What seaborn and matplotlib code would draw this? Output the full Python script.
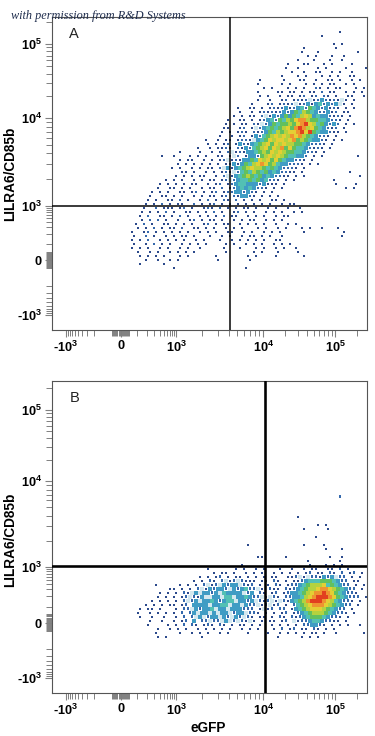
import numpy as np
import pandas as pd
import seaborn as sns
import matplotlib
matplotlib.use("Agg")
import matplotlib.pyplot as plt

sns.set_theme(style="white")
plt.rcParams.update({
    "font.family": ["Liberation Sans", "DejaVu Sans"],
    "mathtext.fontset": "custom",
    "mathtext.rm": "Liberation Sans",
    "mathtext.bf": "Liberation Sans:bold",
})

# ---------- data: density level per 2-D bin ----------
ROWS_A = """
.......... .......... .......... .......... .......... ..1
.......... .......... .......... .......... .......1..
.......... .......... .......... .......... ..........
.......... .......... .......... .......... .......... 1.1
.......... .......... .......... .......... ...1...... .1
.......... .......... .......... .......... ..1...1... ......1
.......... .......... .......... .......... ....1.1... 1..1
.......... .......... .......... .......... .1...1...1 ..1
.......... .......... .......... .........1 ...11...1. 1....1
.......... .......... .......... ........1. .1....1.1. ...1....1
.......... .......... .......... .......... 1..1..11.. 1.1..1
.......... .......... .......... .......1.. .1.1...1.1 .1..11
.......... .......... .......... ..1.....1. ..11..1..1 1.1..1.1
.......... .......... .......... .1.....1.1 ...1.1.1.1 1..1.1
.......... .......... .......... ...1.1...1 .1.1..21.1 .11...1.1
.......... .......... .......... .1....11.1 1.1.11.2.1 1..1.1.1
.......... .......... .......... ..1.1..1.1 1.12.12.21 .1..11..1
.......... .......... .......... .1..1..12. 1212012321 2101.1
.......... .......... .......... 1...12.121 2012313423 2301.1
.......... .......... ......1..1 1.1.121231 2342543231 21.1.1
.......... .......... .......1.. 1.12121232 3546543223 12.11
.......... .......... .....1.1.1 1.20132353 5467634332 121.1
.......... .......... ....1..11. 1.12342546 5788655443 221.1
.......... .......... ...1.1.11. 2102354556 5789764532 32.1.1
.......... .......... ...11..12. 1023454567 5898675432 12.1
.......... .......... ..1.1.121. 2123546567 7897954332 11.1
.......... .......... ..1..1.12. 1324567676 8786543221 .1
.......... ........1. .1.11.1221 0345767767 856543321. 1.1
.......... .........1 .1.12.1321 3456757676 655432221. 1
.......... ......1..1 .1121.2132 4567576857 54432121.1
.......... ..1....1.. 1.1.201213 3456576765 5443221.1.
.......1.. 1...1.1.1. .11.102.13 3256767654 4332.1.1.. ......1
.......... ..1.11..1. 1.12012133 5476757543 3221.1....
.......... .1.1.1.1.1 .1.1231354 6787564332 221.1.1
.......... 1.1..1.1.1 1.20313456 7665454322 21.1
.......... ..11.1..1. 1.12102454 6545343221 1.1....... ....1
.......... .1.1.1.11. .1.2013456 5453432211 .1.1...... .......1
........1. 1.1..1.1.1 1.12023445 4534221.1. 1......... 1
.......1.1 .1.1.11..1 .12.123443 3323111.1. .......... .1....1
......1..1 1.1.1..1.1 1.2.123434 3221.1.1.. .......... ...1.1
.....1.1.1 ..11.12.1. 12.1223323 21.1.1....
....1..11. 1.1..1.1.1 1.12.21332 1.1.1.1...
....1.1..1 1.2.1..1.2 .1.21.2.1. 1.1..11.1.
...1.1.2.1 .11..2.1.1 2.1.2.1.1. 1.1.1..1.1 1
...1..2.11 1.12.1..12 1.2.1.1.11 .1..1.1..1 ..1
..1.1.1.2. 1..11.1.1. 2.1..12.1. 1..1.1.1.. 1.1
..1.2..11. 1.2.1..1.1 .1.2.11..1 .1.1..1.11
..1.2.2.1. .1..12.1.1 1.1..1.1.1 1..1.1.1.
.1.2.1..11 .1.1.1..12 .1.11..1.1 .1.1..1..1 .1
.1.1.2.1.1 1.2..11.1. 1..1.1.1.. .1.1..1.1. ..1.1..1.. .1
1..12.1.1. 1.1.1..1.1 .1..11..1. 1..1.1.1.. ...1...... ...1
1..2.1..1. 1.11.1...1 ..1.1..1.1 1.1.1..1.. .......... ..1
1.1.2..1.1 .1.1..1.1. ..1..1.1.1 .1.1..11..
1..1.2.1.1 ..1.1.1.1. ...1.1..1. 1.1..1.1.1
1.1.1..1.1 ..1.1..1.. ...1...1.. .1.1..1.1. .1
.1..1.1..1 .1.1.1.... ...1...... 1.1...1... .1
..1.1.1.1. ..1.1..... .1.......1 .1....1... ...1
...1..1..1 .1........ .1.......1
..1.....1.
.......... 1......... ........1.
""".strip().splitlines()

ROWS_B = """
.......... .......... .......... .......... .......... ..2
.
.
.
.
.......... .......... .......... .......... .1
.
.......... .......... .......... .......... ......1.1.
.......... .......... .......... .......... ...1.....1
.
.......... .......... .......... .......... ......1...
.
.......... .......... .........1 .......... ...1....1.
.......... .......... .......... .......... ........1. ..1
.
.......... .......... .......... .11.....1. .........1 ..1
.......... .......... .......... .......... ....1..... ..1
.......... .......... .......1.. .......... ....1...1. 1.1
.......... .........1 ......1.1. .1.1...1.. 1..1.11..1 1.2.1
.......... .......... 1.11.1..1. 1.1..1.1.1 .1.12.11.2 1.2.12.1
.......... .......1.1 .12.1.11.1 .1.1.11..1 1201022132 3022.1.1
.......... .....1.1.2 1.20120211 1.11.21.1. 1123444555 4322.11
......1... ..1.1.1.20 1203233021 2.1.1.21.1 2234566674 54322.1.1
.........1 1.1.1.2013 2332032342 201.211.21 2345667887 654322.1
.......1.1 .1.2103033 2304333302 3.21.12.12 3345678898 7543221
......1.1. 1.12021300 3304403343 2201021.22 3346789998 7543222.1
.....1.1.1 .1.2023033 4323440332 3021201021 3456899987 643221.1
...1.1.1.1 1.12.33330 3344033032 2012012.1. 2456788876 54322.1
..1.11.1.. .1.2203233 4033033322 2.1012.22. 1345677765 4322.1
.1..1.1.1. 1.2.230330 3033023302 21.1.1.12. 1234566654 3221.1
..1..1..1. .1.2.20302 3303203202 1.11.1.21. 2123455543 221.1
....1..1.. 1.12.3.220 2203020210 1.1.11.12. 0122344322 11.1
....1....1 .1.2.21.12 1.21.1.11. 1.1..1.1.1 .1.223321. 1.1.1..1
......1..1 .1.1..1.1. 1.1.1..1.1 .1...1.2.1 2.11.21.1. 1
......1... ..1..1.1.1 ..1.1....1 ....1..1.1 .1.1.11.1. .1......1
......1.1. .......1.. .......... ......1... ..1.1.1...
""".strip().splitlines()

X_TICK_VALUES = [-1000, 0, 1000, 10000, 100000]
X_TICK_LABELS = [r"-$\mathbf{10^{3}}$", "0", r"$\mathbf{10^{3}}$", r"$\mathbf{10^{4}}$", r"$\mathbf{10^{5}}$"]
Y_TICK_VALUES = [-1000, 0, 1000, 10000, 100000]
Y_TICK_LABELS = X_TICK_LABELS
GATE_A = (4200, 1000)
GATE_B = (10700, 1030)

PALETTE = {0: "#d3e8ef", 1: "#2c4a8c", 2: "#3569ad", 3: "#3f9cc4", 4: "#52c0b4", 5: "#62c05e",
           6: "#b4d23e", 7: "#e4cf34", 8: "#ee9430", 9: "#e2401f"}
SIZES_PX = {0: 4.3, 1: 2.1, 2: 2.9, 3: 3.6, 4: 4.0, 5: 4.3, 6: 4.3, 7: 4.3, 8: 4.3, 9: 4.3}

W, H = 375, 736
CELL = 4
GRID_LEFT = 130

# scale anchors: asinh-transformed value -> pixel
ANCH_V = np.array([-1e4, -1000, 0, 1000, 1e4, 1e5, 1e6])
ANCH_T = np.arcsinh(ANCH_V / 100)
ANCH_X = np.array([0.0, 65.7, 120.7, 176.3, 263.3, 335.3, 407.3])
ANCH_YA = -np.array([370.0, 315.0, 260.0, 205.7, 118.3, 44.0, -30.0])
ANCH_YB = -np.array([733.0, 678.0, 623.0, 567.3, 481.3, 409.7, 336.0])


def make_funcs(anch):
    fwd = lambda v: np.interp(np.arcsinh(np.asarray(v, float) / 100), ANCH_T, anch)
    inv = lambda p: 100 * np.sinh(np.interp(np.asarray(p, float), anch, ANCH_T))
    return fwd, inv


MINOR = ([-s * 100 for s in range(2, 10)] + [s * 100 for s in range(1, 10)]
         + [s * 1000 for s in range(2, 10)] + [s * 10000 for s in range(2, 10)] + [200000])
ZERO_BLOCK = [v for v in range(-48, 49, 6)]


def cells(rows, top, xinv, yinv):
    recs = []
    for i, row in enumerate(rows):
        s = "".join(g.ljust(10, ".") for g in row.split())
        shift = CELL / 2 * (i % 2)  # hexagonal (staggered) binning
        for j, c in enumerate(s):
            if c != ".":
                recs.append((float(xinv(GRID_LEFT + CELL * j + CELL / 2 + shift)),
                             float(yinv(-(top + CELL * i + CELL / 2))), int(c)))
    return pd.DataFrame(recs, columns=["x", "y", "level"]).sort_values("level", kind="stable")


fig = plt.figure(figsize=(W / 100, H / 100), dpi=100)
panels = [("A", ROWS_A, ANCH_YA, 17.3, 330.0, 30, GATE_A, 1.5, 174),
          ("B", ROWS_B, ANCH_YB, 380.7, 693.3, 494.7, GATE_B, 2.6, 540)]
L, R = 51.7, 366.7
xf, xi = make_funcs(ANCH_X)
sizes = {k: (v * 0.72) ** 2 for k, v in SIZES_PX.items()}

for name, rows, anch, top, bot, gtop, gate, lw, ylab in panels:
    yf, yi = make_funcs(anch)
    ax = fig.add_axes([L / W, 1 - bot / H, (R - L) / W, (bot - top) / H])
    ax.set_xscale("function", functions=(xf, xi))
    ax.set_yscale("function", functions=(yf, yi))
    df = cells(rows, gtop, xi, yi)
    sns.scatterplot(data=df, x="x", y="y", hue="level", size="level", palette=PALETTE,
                    sizes=sizes, marker="s", linewidth=0, legend=False, ax=ax, zorder=2)
    ax.set_xlim(float(xi(L)), float(xi(R)))
    ax.set_ylim(float(yi(-bot)), float(yi(-top)))
    ax.axvline(gate[0], color="black", lw=lw * 0.72, zorder=4)
    ax.axhline(gate[1], color="black", lw=lw * 0.72, zorder=4)
    ax.set_xticks(X_TICK_VALUES, X_TICK_LABELS, fontsize=9.2, fontweight="bold")
    ax.set_yticks(Y_TICK_VALUES, Y_TICK_LABELS, fontsize=9.2, fontweight="bold")
    ax.set_xticks(MINOR + ZERO_BLOCK, minor=True)
    ax.set_yticks(MINOR + ZERO_BLOCK, minor=True)
    ax.tick_params(axis="both", which="major", length=5, width=0.8, color="#808080",
                   labelcolor="black", pad=2, bottom=True, left=True)
    ax.tick_params(axis="both", which="minor", length=4.2, width=0.7, color="#808080",
                   bottom=True, left=True)
    for sp in ax.spines.values():
        sp.set_color("#555555")
        sp.set_linewidth(0.8)
    ax.set_xlabel("")
    ax.set_ylabel("")
    ax.text(0.056, 0.945, name, transform=ax.transAxes, fontsize=10.5, color="#222222",
            family="Liberation Sans", ha="left", va="center")
    fig.text(10.5 / W, 1 - ylab / H, "LILRA6/CD85b", rotation=90, fontsize=9.8,
             fontweight="bold", ha="center", va="center", color="black")

fig.text(208 / W, 1 - 728 / H, "eGFP", fontsize=9.8, fontweight="bold",
         ha="center", va="center", color="black")
fig.text(11 / W, 1 - 16 / H, "with permission from R&D Systems", fontsize=8.8,
         style="italic", family="Liberation Serif", color="#1f2d4d", ha="left", va="center")

fig.savefig("out.png", dpi=100)
